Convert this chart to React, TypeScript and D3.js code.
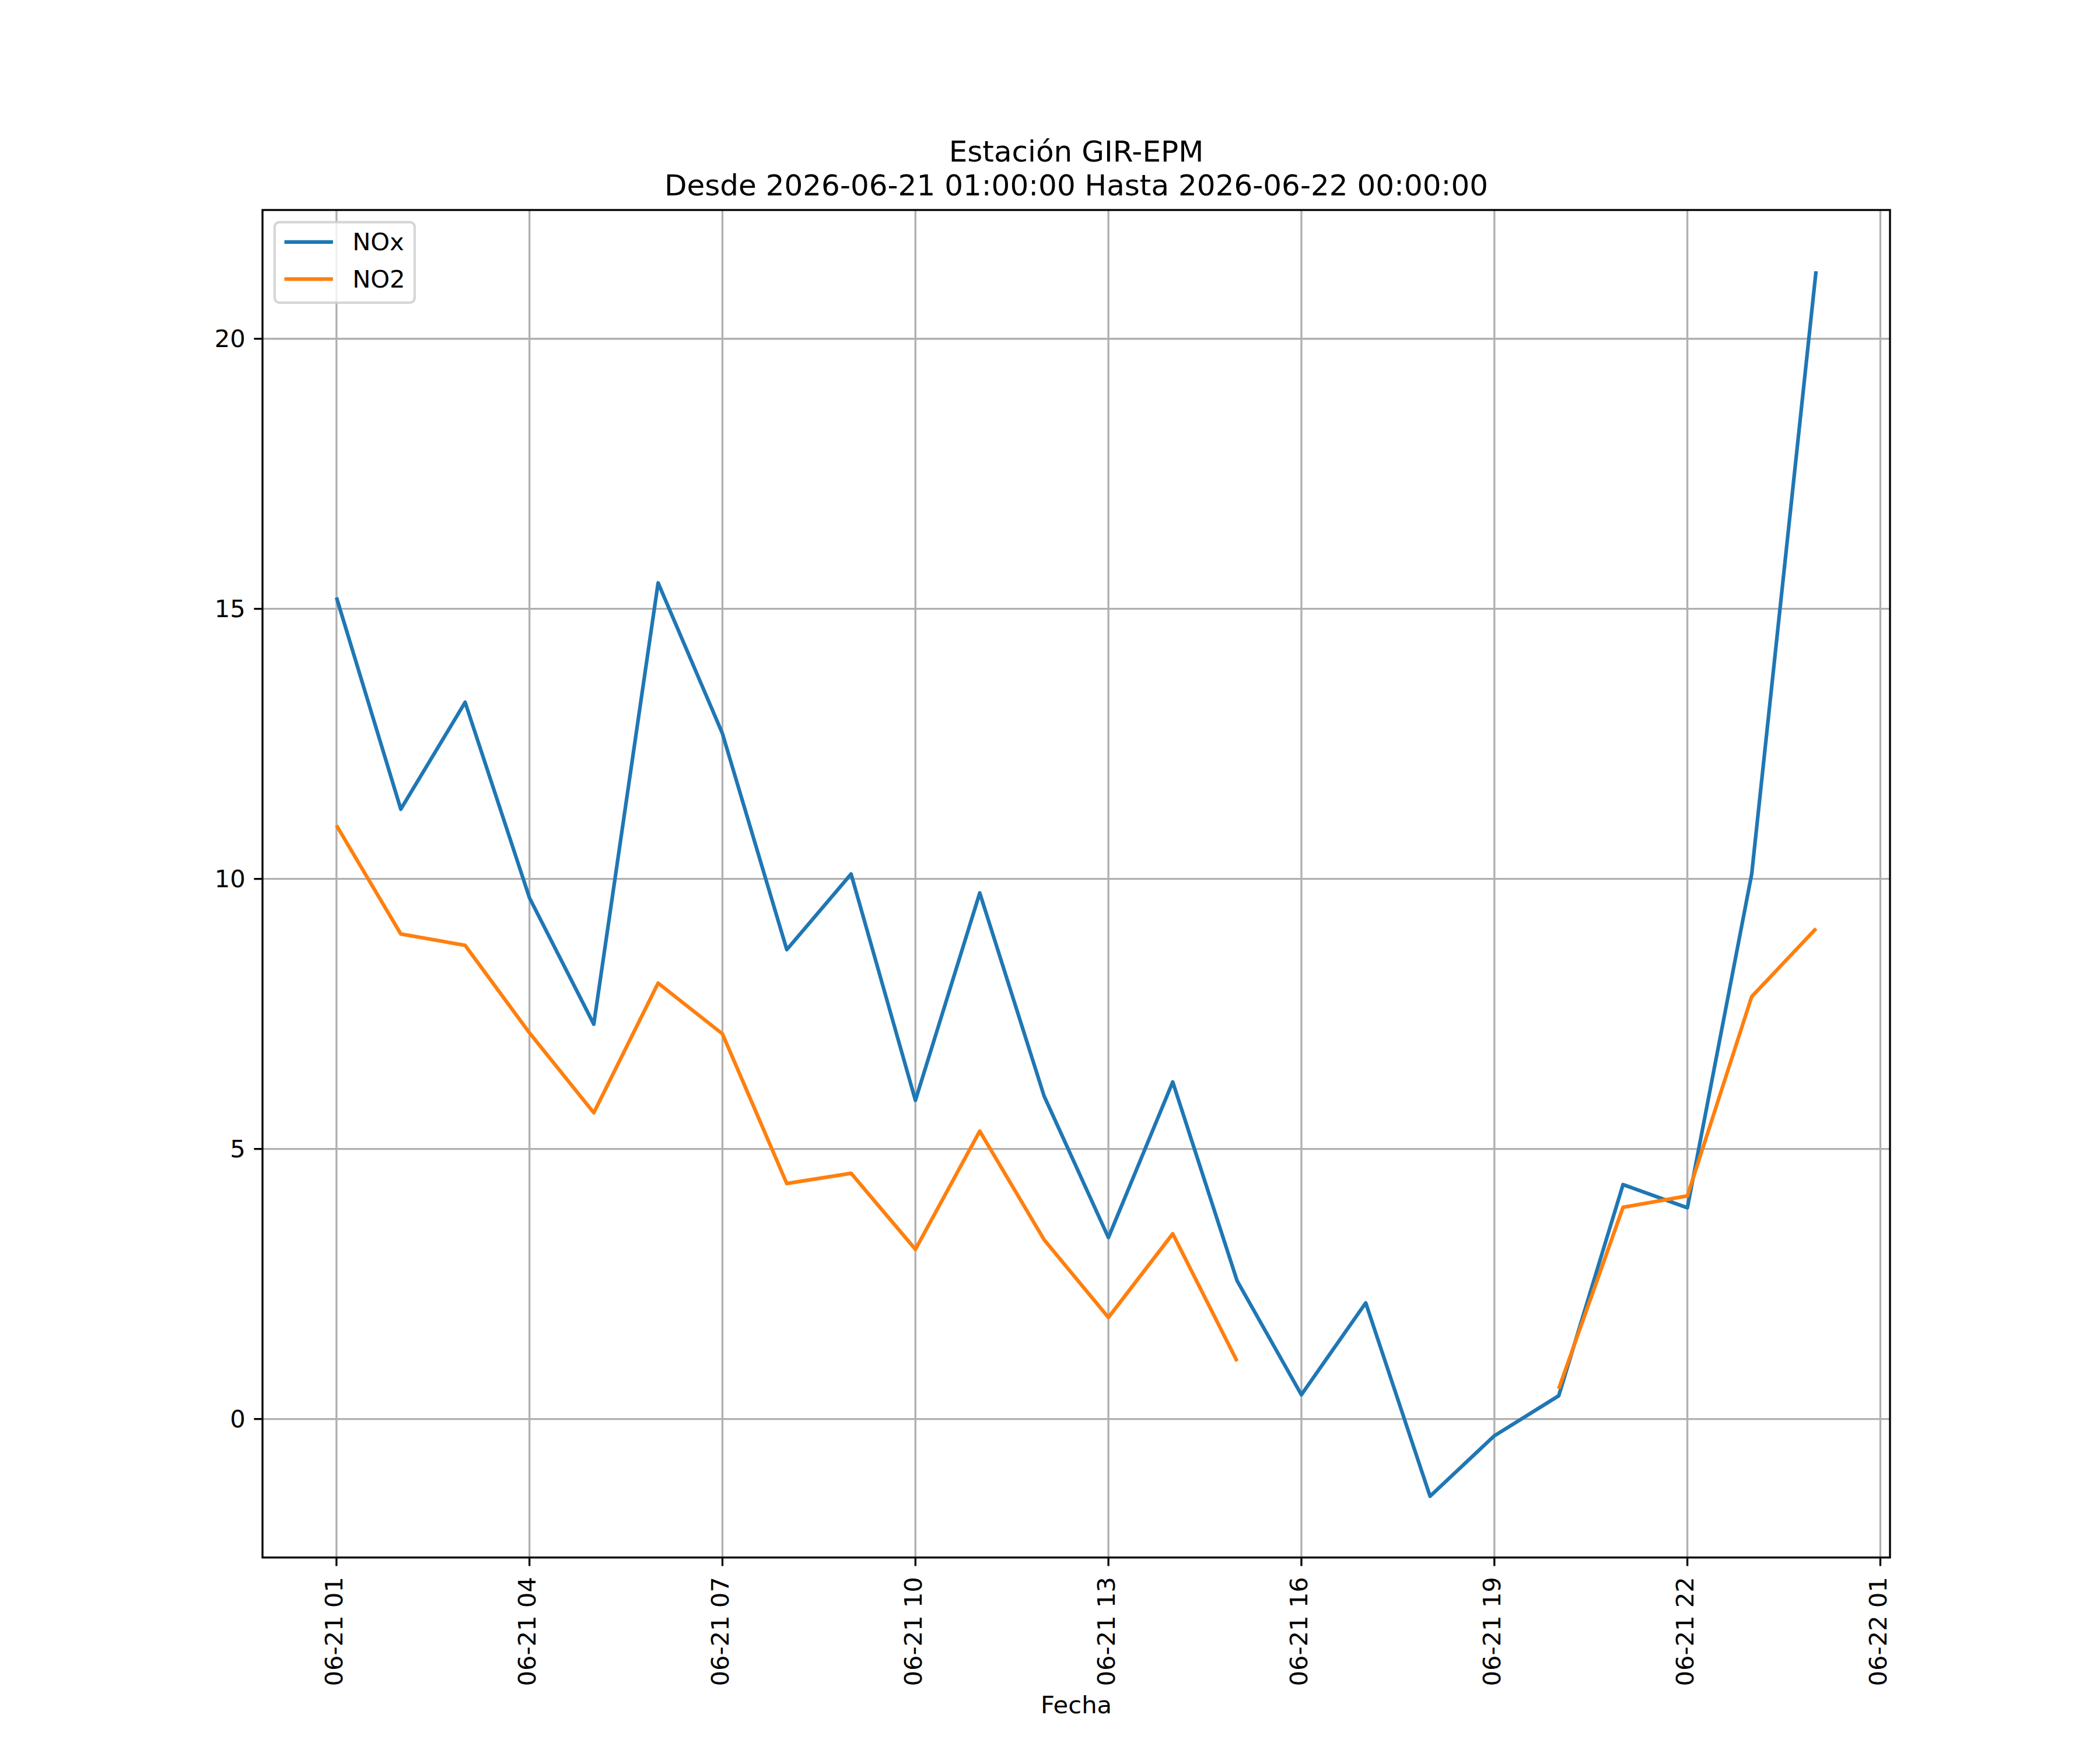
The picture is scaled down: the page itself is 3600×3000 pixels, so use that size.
import * as d3 from "d3";

// hourly timestamps (UTC) and readings
const TIMES = [
  "2026-06-21T01:00", "2026-06-21T02:00", "2026-06-21T03:00", "2026-06-21T04:00",
  "2026-06-21T05:00", "2026-06-21T06:00", "2026-06-21T07:00", "2026-06-21T08:00",
  "2026-06-21T09:00", "2026-06-21T10:00", "2026-06-21T11:00", "2026-06-21T12:00",
  "2026-06-21T13:00", "2026-06-21T14:00", "2026-06-21T15:00", "2026-06-21T16:00",
  "2026-06-21T17:00", "2026-06-21T18:00", "2026-06-21T19:00", "2026-06-21T20:00",
  "2026-06-21T21:00", "2026-06-21T22:00", "2026-06-21T23:00", "2026-06-22T00:00",
];

const NOX = [
  15.21, 11.29, 13.27, 9.65, 7.31, 15.48, 12.69, 8.69, 10.09, 5.9, 9.74, 5.98,
  3.36, 6.24, 2.56, 0.45, 2.15, -1.43, -0.31, 0.43, 4.34, 3.91, 10.09, 21.25,
];

const NO2: (number | null)[] = [
  10.99, 8.98, 8.77, 7.15, 5.67, 8.07, 7.13, 4.36, 4.55, 3.14, 5.33, 3.32,
  1.88, 3.43, 1.07, null, null, null, null, 0.56, 3.92, 4.13, 7.82, 9.08,
];

const X_TICKS = [
  "2026-06-21T01:00", "2026-06-21T04:00", "2026-06-21T07:00", "2026-06-21T10:00",
  "2026-06-21T13:00", "2026-06-21T16:00", "2026-06-21T19:00", "2026-06-21T22:00",
  "2026-06-22T01:00",
];
const Y_TICKS = [0, 5, 10, 15, 20];

const SERIES = [
  { name: "NOx", values: NOX as (number | null)[], color: "#1f77b4" },
  { name: "NO2", values: NO2, color: "#ff7f0e" },
];

const TITLE_1 = "Estación GIR-EPM";
const TITLE_2 = "Desde 2026-06-21 01:00:00 Hasta 2026-06-22 00:00:00";
const X_LABEL = "Fecha";

const W = 3600;
const H = 3000;
const FONT = "DejaVu Sans, sans-serif";
const PT = 300 / 72; // px per point at 300 dpi

export default function App() {
  const parse = d3.utcParse("%Y-%m-%dT%H:%M");
  const fmt = d3.utcFormat("%m-%d %H");
  const dates = TIMES.map((t) => parse(t) as Date);

  const left = 450, right = 3240, top = 360, bottom = 2670;

  // matplotlib-style 5% margins
  const [t0, t1] = d3.extent(dates) as [Date, Date];
  const span = +t1 - +t0;
  const x = d3
    .scaleUtc()
    .domain([new Date(+t0 - span * 0.05), new Date(+t1 + span * 0.05)])
    .range([left, right]);

  const allVals = SERIES.flatMap((s) => s.values.filter((v) => v != null) as number[]);
  const [vmin, vmax] = d3.extent(allVals) as [number, number];
  const vr = vmax - vmin;
  const y = d3
    .scaleLinear()
    .domain([vmin - vr * 0.05, vmax + vr * 0.05])
    .range([bottom, top]);

  const line = d3
    .line<number | null>()
    .defined((d) => d != null)
    .x((_, i) => x(dates[i]))
    .y((d) => y(d as number));

  const xTicks = X_TICKS.map((t) => parse(t) as Date);
  const tickLen = 3.5 * PT;
  const tickPad = 3.5 * PT;
  const fs = 10 * PT;
  const gridW = 0.8 * PT;

  // legend geometry
  const lgX = left + 0.5 * fs;
  const lgY = top + 0.5 * fs;
  const lgW = 240;
  const lgH = 138;

  return (
    <svg
      width={W}
      height={H}
      viewBox={`0 0 ${W} ${H}`}
      style={{ position: "absolute", left: 0, top: 0, background: "#fff" }}
      fontFamily={FONT}
    >
      <rect x={0} y={0} width={W} height={H} fill="#fff" />

      {/* grid */}
      <g stroke="#b0b0b0" strokeWidth={gridW}>
        {xTicks.map((d, i) => (
          <line key={`gx${i}`} x1={x(d)} x2={x(d)} y1={top} y2={bottom} />
        ))}
        {Y_TICKS.map((v) => (
          <line key={`gy${v}`} x1={left} x2={right} y1={y(v)} y2={y(v)} />
        ))}
      </g>

      {/* series */}
      {SERIES.map((s) => (
        <path
          key={s.name}
          d={line(s.values) ?? ""}
          fill="none"
          stroke={s.color}
          strokeWidth={1.5 * PT}
          strokeLinejoin="round"
          strokeLinecap="butt"
        />
      ))}

      {/* spines */}
      <rect
        x={left}
        y={top}
        width={right - left}
        height={bottom - top}
        fill="none"
        stroke="#000"
        strokeWidth={0.8 * PT}
      />

      {/* x ticks */}
      {xTicks.map((d, i) => (
        <g key={`xt${i}`}>
          <line
            x1={x(d)}
            x2={x(d)}
            y1={bottom}
            y2={bottom + tickLen}
            stroke="#000"
            strokeWidth={0.8 * PT}
          />
          <text
            transform={`translate(${x(d) - 4},${bottom + tickLen + tickPad + 4}) rotate(-90)`}
            textAnchor="end"
            dominantBaseline="central"
            fontSize={fs}
            fill="#000"
          >
            {fmt(d)}
          </text>
        </g>
      ))}

      {/* y ticks */}
      {Y_TICKS.map((v) => (
        <g key={`yt${v}`}>
          <line
            x1={left - tickLen}
            x2={left}
            y1={y(v)}
            y2={y(v)}
            stroke="#000"
            strokeWidth={0.8 * PT}
          />
          <text
            x={left - tickLen - tickPad}
            y={y(v)}
            textAnchor="end"
            dominantBaseline="central"
            fontSize={fs}
            fill="#000"
          >
            {v}
          </text>
        </g>
      ))}

      {/* x label */}
      <text x={(left + right) / 2} y={2937} textAnchor="middle" fontSize={fs} fill="#000">
        {X_LABEL}
      </text>

      {/* title */}
      <text textAnchor="middle" fontSize={12 * PT} fill="#000">
        <tspan x={(left + right) / 2} y={277}>{TITLE_1}</tspan>
        <tspan x={(left + right) / 2} y={335}>{TITLE_2}</tspan>
      </text>

      {/* legend */}
      <g>
        <rect
          x={lgX}
          y={lgY}
          width={lgW}
          height={lgH}
          rx={8}
          ry={8}
          fill="#fff"
          fillOpacity={0.8}
          stroke="#cccccc"
          strokeOpacity={0.8}
          strokeWidth={1.0 * PT}
        />
        {SERIES.map((s, i) => {
          const cy = lgY + 34 + i * 63.6;
          const hx = lgX + 0.4 * fs;
          return (
            <g key={`lg${s.name}`}>
              <line
                x1={hx}
                x2={hx + 2 * fs}
                y1={cy}
                y2={cy}
                stroke={s.color}
                strokeWidth={1.5 * PT}
              />
              <text
                x={hx + 2 * fs + 0.8 * fs}
                y={cy}
                dominantBaseline="central"
                fontSize={fs}
                fill="#000"
              >
                {s.name}
              </text>
            </g>
          );
        })}
      </g>
    </svg>
  );
}
